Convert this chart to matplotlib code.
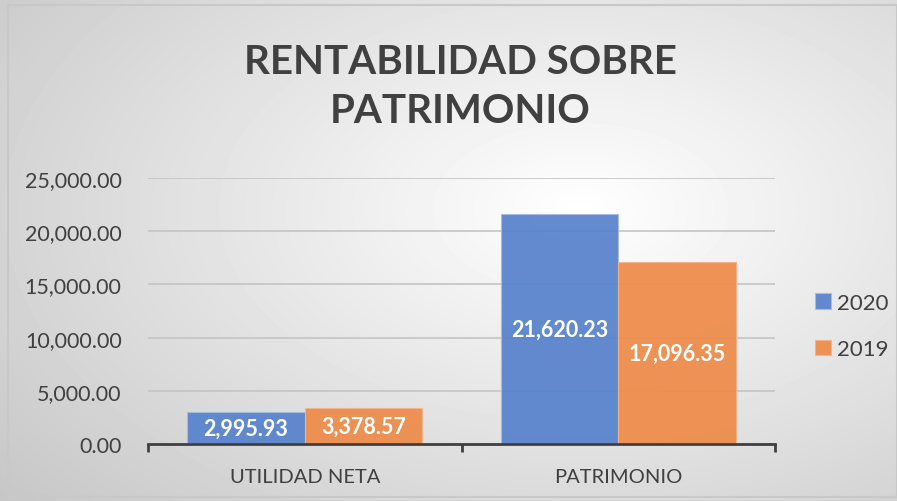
import numpy as np
import matplotlib.pyplot as plt
from matplotlib.patches import Rectangle

categories = ['UTILIDAD NETA', 'PATRIMONIO']
series = ['2020', '2019']
values_2020 = [2995.93, 21620.23]
values_2019 = [3378.57, 17096.35]
yticks = [0, 5000, 10000, 15000, 20000, 25000]

colors = ['#5681CC', '#EE8A48']

plt.rcParams['font.family'] = ['Lato', 'DejaVu Sans']

fig = plt.figure(figsize=(8.97, 5.02), dpi=100)

# radial gray background
bg = fig.add_axes([0, 0, 1, 1], zorder=-10)
yy, xx = np.mgrid[0:502, 0:897]
r = np.sqrt(((xx - 580) / 580.0) ** 2 + ((yy - 210) / 340.0) ** 2)
shade = 1.0 - 0.22 * np.clip(r, 0, 1.3) / 1.3
bg.imshow(shade, cmap='gray', vmin=0, vmax=1, aspect='auto', extent=[0, 897, 502, 0])
bg.add_patch(Rectangle((8, 6), 889, 492, fill=False, edgecolor='#c8c8c8', lw=1.5))
bg.set_xlim(0, 897)
bg.set_ylim(502, 0)
bg.axis('off')

ax = fig.add_axes([148 / 897, 1 - 445 / 502, (775 - 148) / 897, (445 - 179) / 502])
ax.patch.set_alpha(0)

x = np.arange(len(categories))
w = 0.375
b1 = ax.bar(x - w / 2, values_2020, w, color=colors[0], alpha=0.92, edgecolor='#a9bde3', lw=0.8, zorder=2, label=series[0])
b2 = ax.bar(x + w / 2, values_2019, w, color=colors[1], alpha=0.92, edgecolor='#f4b48a', lw=0.8, zorder=2, label=series[1])

for bars, vals in [(b1, values_2020), (b2, values_2019)]:
    for rect, v in zip(bars, vals):
        ax.text(rect.get_x() + rect.get_width() / 2, v / 2, f'{v:,.2f}',
                ha='center', va='center', color='white', fontsize=15.5, fontweight='bold', zorder=3)

ax.set_xlim(-0.5, 1.5)
ax.set_ylim(0, 25000)
ax.set_yticks(yticks)
ax.set_yticklabels([f'{t:,.2f}' for t in yticks])
ax.yaxis.grid(True, color='#c4c4c4', lw=1.2, zorder=0)
ax.set_axisbelow(True)
ax.set_xticks(x)
ax.set_xticklabels(categories)
ax.set_xticks([-0.5, 0.5, 1.5], minor=True)
ax.tick_params(axis='x', which='major', length=0, pad=17, labelsize=14.5, labelcolor='#404040')
ax.tick_params(axis='x', which='minor', length=6, width=2, color='#404040')
ax.tick_params(axis='y', length=0, pad=19, labelsize=15.5, labelcolor='#404040')
for s in ['top', 'right', 'left']:
    ax.spines[s].set_visible(False)
ax.spines['bottom'].set_color('#404040')
ax.spines['bottom'].set_linewidth(2)

fig.text(460 / 897, 1 - 87 / 502, 'RENTABILIDAD SOBRE\nPATRIMONIO', ha='center', va='center',
         fontsize=29, fontweight='bold', color='#404040', linespacing=1.4)

fig.legend(handles=[b1, b2], labels=series, loc='center left', bbox_to_anchor=(815 / 897, 1 - 327 / 502),
           frameon=False, fontsize=16, handlelength=0.7, handleheight=0.7, labelspacing=1.2,
           handletextpad=0.3, labelcolor='#404040', borderaxespad=0, borderpad=0)

fig.savefig('out.png', dpi=100)
